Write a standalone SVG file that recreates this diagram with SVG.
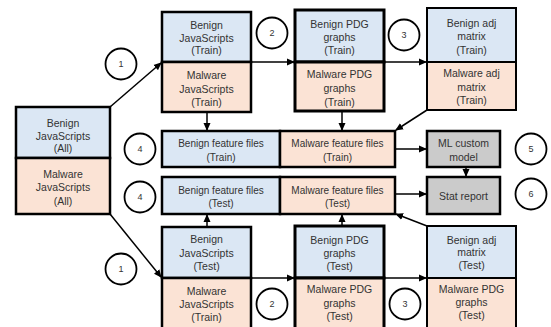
<svg xmlns="http://www.w3.org/2000/svg" width="551" height="327" viewBox="0 0 551 327">
<style>
text{font-family:"Liberation Sans",Arial,sans-serif;font-size:10.500px;fill:#333;text-anchor:middle}
.f{font-size:10px}
.s{font-size:9px}
.b{fill:#dbe7f4}
.m{fill:#fbe3d5}
.g{fill:#cbcbcb}
.k{stroke:#000;stroke-width:2.5}
.t{stroke:#000;stroke-width:3}
.n{stroke:#000;stroke-width:2}
.c{fill:#fff;stroke:#000;stroke-width:1.8}
.e{stroke:#000;stroke-width:1.5;fill:none;marker-end:url(#ah)}
</style>
<defs>
<marker id="ah" markerWidth="8" markerHeight="8" refX="7" refY="4" orient="auto" markerUnits="userSpaceOnUse">
<path d="M0,0.5 L8,4 L0,7.5 z" fill="#000"/>
</marker>
</defs>
<rect width="551" height="327" fill="#fff"/>
<g id="connectors">
<line class="e" x1="110" y1="107" x2="161" y2="63"/>
<line class="e" x1="110" y1="214" x2="161" y2="277"/>
<line class="e" x1="251" y1="62" x2="294" y2="62"/>
<line class="e" x1="384" y1="62" x2="426" y2="62"/>
<line class="e" x1="207" y1="112" x2="207" y2="130"/>
<line class="e" x1="342" y1="111" x2="342" y2="130"/>
<line class="e" x1="427" y1="110" x2="396" y2="130"/>
<line class="e" x1="395" y1="149" x2="426" y2="149"/>
<line class="e" x1="466" y1="167" x2="466" y2="176"/>
<line class="e" x1="395" y1="194" x2="426" y2="194"/>
<line class="e" x1="207" y1="227" x2="207" y2="215"/>
<line class="e" x1="342" y1="226" x2="342" y2="215"/>
<line class="e" x1="427" y1="226" x2="396" y2="214"/>
<line class="e" x1="251" y1="278" x2="294" y2="278"/>
<line class="e" x1="384" y1="278" x2="426" y2="278"/>
</g>
<g id="js-all">
<rect class="b k" x="16" y="107" width="94" height="51"/>
<rect class="m k" x="16" y="158" width="94" height="56"/>
<text x="63" y="127">Benign</text><text x="63" y="140">JavaScripts</text><text x="63" y="152">(All)</text>
<text x="63" y="178">Malware</text><text x="63" y="191">JavaScripts</text><text x="63" y="205">(All)</text>
</g>
<g id="js-train">
<rect class="b k" x="162" y="12" width="89" height="50"/>
<rect class="m k" x="162" y="62" width="89" height="50"/>
<text x="206.500" y="29">Benign</text><text x="206.500" y="42">JavaScripts</text><text x="206.500" y="54">(Train)</text>
<text x="206.500" y="79">Malware</text><text x="206.500" y="93">JavaScripts</text><text x="206.500" y="106">(Train)</text>
</g>
<g id="pdg-train">
<rect class="b t" x="295" y="10" width="89" height="52"/>
<rect class="m t" x="295" y="62" width="89" height="49"/>
<text x="339.500" y="28">Benign PDG</text><text x="339.500" y="41">graphs</text><text x="339.500" y="54">(Train)</text>
<text x="339.500" y="78">Malware PDG</text><text x="339.500" y="92">graphs</text><text x="339.500" y="106">(Train)</text>
</g>
<g id="adj-train">
<rect class="b n" x="427" y="8" width="89" height="54"/>
<rect class="m n" x="427" y="62" width="89" height="48"/>
<text x="471.500" y="27">Benign adj</text><text x="471.500" y="40">matrix</text><text x="471.500" y="54">(Train)</text>
<text x="471.500" y="77">Malware adj</text><text x="471.500" y="91">matrix</text><text x="471.500" y="104">(Train)</text>
</g>
<g id="feat-train">
<rect class="b k" x="162" y="131" width="118" height="36"/>
<rect class="m k" x="280" y="131" width="115" height="36"/>
<text class="f" x="221" y="147">Benign feature files</text><text class="f" x="221" y="161">(Train)</text>
<text class="f" x="337.500" y="147">Malware feature files</text><text class="f" x="337.500" y="161">(Train)</text>
</g>
<g id="ml-model">
<rect class="g k" x="427" y="131" width="73" height="36"/>
<text x="463.500" y="147">ML custom</text><text x="463.500" y="161">model</text>
</g>
<g id="feat-test">
<rect class="b k" x="162" y="177" width="118" height="37"/>
<rect class="m k" x="280" y="177" width="115" height="37"/>
<text class="f" x="221" y="194">Benign feature files</text><text class="f" x="221" y="207">(Test)</text>
<text class="f" x="337.500" y="194">Malware feature files</text><text class="f" x="337.500" y="207">(Test)</text>
</g>
<g id="stat-report">
<rect class="g k" x="427" y="177" width="73" height="37"/>
<text x="463.500" y="200">Stat report</text>
</g>
<g id="js-test">
<rect class="b k" x="162" y="227" width="89" height="51"/>
<rect class="m k" x="162" y="278" width="89" height="52"/>
<text x="206.500" y="243">Benign</text><text x="206.500" y="257">JavaScripts</text><text x="206.500" y="270">(Test)</text>
<text x="206.500" y="295">Malware</text><text x="206.500" y="308">JavaScripts</text><text x="206.500" y="321">(Train)</text>
</g>
<g id="pdg-test">
<rect class="b t" x="295" y="226" width="89" height="52"/>
<rect class="m t" x="295" y="278" width="89" height="52"/>
<text x="339.500" y="244">Benign PDG</text><text x="339.500" y="257">graphs</text><text x="339.500" y="270">(Test)</text>
<text x="339.500" y="293">Malware PDG</text><text x="339.500" y="307">graphs</text><text x="339.500" y="320">(Test)</text>
</g>
<g id="adj-test">
<rect class="b n" x="427" y="226" width="89" height="52"/>
<rect class="m n" x="427" y="278" width="89" height="52"/>
<text x="471.500" y="244">Benign adj</text><text x="471.500" y="256">matrix</text><text x="471.500" y="269">(Test)</text>
<text x="471.500" y="293">Malware PDG</text><text x="471.500" y="306">graphs</text><text x="471.500" y="319">(Test)</text>
</g>
<g id="step-1a"><circle class="c" cx="121" cy="64" r="15.500"/><text class="s" x="121" y="67">1</text></g>
<g id="step-2a"><circle class="c" cx="272" cy="33" r="15.500"/><text class="s" x="272" y="36">2</text></g>
<g id="step-3a"><circle class="c" cx="404" cy="35" r="15.500"/><text class="s" x="404" y="38">3</text></g>
<g id="step-4a"><circle class="c" cx="140" cy="149" r="15.500"/><text class="s" x="140" y="152">4</text></g>
<g id="step-5"><circle class="c" cx="531" cy="149" r="15.500"/><text class="s" x="531" y="152">5</text></g>
<g id="step-6"><circle class="c" cx="531" cy="194" r="15.500"/><text class="s" x="531" y="197">6</text></g>
<g id="step-4b"><circle class="c" cx="140" cy="197" r="15.500"/><text class="s" x="140" y="200">4</text></g>
<g id="step-1b"><circle class="c" cx="121" cy="269" r="15.500"/><text class="s" x="121" y="272">1</text></g>
<g id="step-2b"><circle class="c" cx="272" cy="304" r="15.500"/><text class="s" x="272" y="307">2</text></g>
<g id="step-3b"><circle class="c" cx="405" cy="304" r="15.500"/><text class="s" x="405" y="307">3</text></g>
</svg>
